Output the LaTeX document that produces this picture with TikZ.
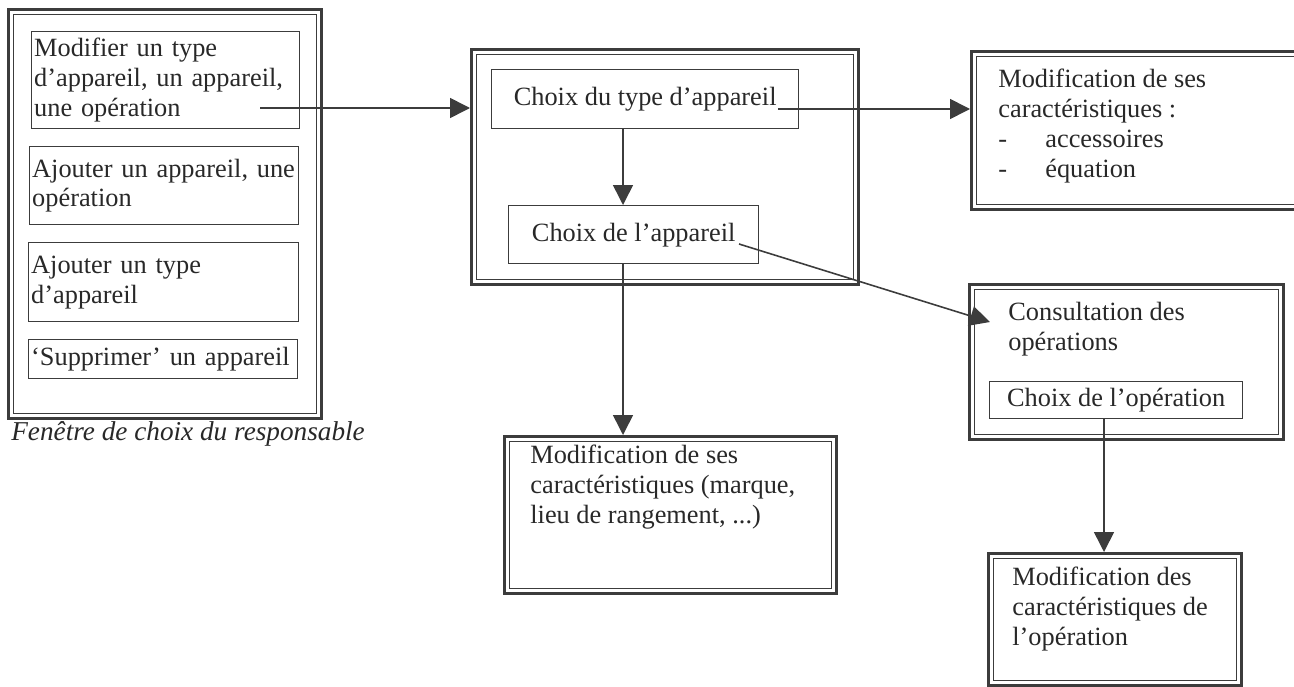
\documentclass[tikz,border=0pt]{standalone}
\usepackage{fontspec}
\setmainfont{Liberation Serif}
\usepackage{tikz}
\usetikzlibrary{positioning,arrows.meta}

\definecolor{ink}{RGB}{60,60,60}
\definecolor{inktext}{RGB}{40,40,40}
\tikzset{
  frame/.style={draw=ink, line width=1.8pt, inner sep=0pt, anchor=north west,
    path picture={\draw[ink, line width=0.5pt]
      ([shift={(0.1cm,-0.1cm)}]path picture bounding box.north west) rectangle
      ([shift={(-0.1cm,0.1cm)}]path picture bounding box.south east);}},
  choice/.style={draw=ink, line width=0.8pt, inner xsep=0.05cm, inner ysep=0pt,
    anchor=north west, align=left},
  txt/.style={inner sep=0pt, anchor=north west, align=left},
  flow/.style={draw=ink, line width=0.9pt, -{Triangle[length=0.4cm, width=0.4cm]}}
}

\begin{document}
\begin{tikzpicture}[x=0.02cm, y=-0.02cm, font=\fontsize{15}{17}\selectfont, text=inktext]
  \useasboundingbox (0,0) rectangle (1294,686);
  \clip (0,0) rectangle (1294,686);

  % fenetre du responsable
  \node[frame, minimum width=6.26cm, minimum height=8.18cm] (L) at (7,8) {};
  \node[choice, text width=5.26cm, minimum height=1.94cm] (m1) at (31,31)
    {Modifier un type\\d'appareil, un appareil,\\une opération};
  \node[choice, text width=5.28cm, minimum height=1.56cm] (m2) at (29,146)
    {Ajouter un appareil, une\\opération};
  \node[choice, text width=5.3cm, minimum height=1.58cm] (m3) at (28,242)
    {Ajouter un type\\d'appareil};
  \node[choice, text width=5.28cm, minimum height=0.78cm] (m4) at (28,339)
    {`Supprimer' un appareil};
  \node[anchor=base west, inner sep=0pt, font=\fontsize{15.5}{17}\selectfont\itshape] (cap) at (11,440)
    {Fenêtre de choix du responsable};

  % choix de l'appareil
  \node[frame, minimum width=7.74cm, minimum height=4.7cm] (M) at (470,48) {};
  \node[choice, align=center, minimum width=6.14cm, minimum height=1.18cm] (t1) at (491,69)
    {Choix du type d'appareil};
  \node[choice, align=center, minimum width=5cm, minimum height=1.16cm] (t2) at (508,205)
    {Choix de l'appareil};
  \node[frame, minimum width=6.64cm, minimum height=3.14cm] (D) at (503,435) {};
  \node[txt] (Dtxt) at (530,445)
    {Modification de ses\\caractéristiques (marque,\\lieu de rangement, ...)};

  % caracteristiques et operations
  \node[frame, minimum width=7.2cm, minimum height=3.16cm] (R) at (970,50) {};
  \node[txt] (Rtxt) at (998,69)
    {Modification de ses\\caractéristiques :\\\makebox[0.94cm][l]{-}accessoires\\\makebox[0.94cm][l]{-}équation};
  \node[frame, minimum width=6.28cm, minimum height=3.1cm] (C) at (968,283) {};
  \node[txt] (Ctxt) at (1008,302) {Consultation des\\opérations};
  \node[choice, align=center, minimum width=5.06cm, minimum height=0.74cm] (op) at (989,381)
    {Choix de l'opération};
  \node[frame, minimum width=5.06cm, minimum height=2.64cm] (B) at (987,552) {};
  \node[txt] (Btxt) at (1012,567)
    {Modification des\\caractéristiques de\\l'opération};

  \coordinate (m1out) at (260,108);
  \coordinate (t1out) at (778,109);
  \coordinate (t2out) at (739,244);
  \coordinate (cin) at (990,322);
  \coordinate (mcol) at (623,0);
  \coordinate (ocol) at (1104,0);

  %m1>M
  \draw[flow] (m1out) -- (M.west |- m1out);
  %t1>R
  \draw[flow] (t1out) -- (R.west |- t1out);
  %t1>t2
  \draw[flow] (t1.south -| mcol) -- (t2.north -| mcol);
  %t2>C
  \draw[flow] (t2out) -- (cin);
  %t2>D
  \draw[flow] (t2.south -| mcol) -- (D.north -| mcol);
  %op>B
  \draw[flow] (op.south -| ocol) -- (B.north -| ocol);
\end{tikzpicture}
\end{document}
